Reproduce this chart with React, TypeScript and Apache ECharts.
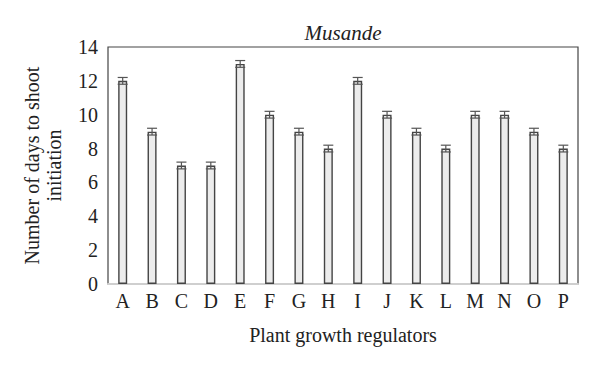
import React, { useEffect, useRef } from "react";
import * as echarts from "echarts";

const categories = ["A", "B", "C", "D", "E", "F", "G", "H", "I", "J", "K", "L", "M", "N", "O", "P"];
const values = [12, 9, 7, 7, 13, 10, 9, 8, 12, 10, 9, 8, 10, 10, 9, 8];
const errors = [0.2, 0.2, 0.2, 0.2, 0.2, 0.2, 0.2, 0.2, 0.2, 0.2, 0.2, 0.2, 0.2, 0.2, 0.2, 0.2];
const yTicks = [0, 2, 4, 6, 8, 10, 12, 14];

const FONT = "Liberation Serif";

export default function App() {
  const ref = useRef<HTMLDivElement>(null);
  useEffect(() => {
    if (!ref.current) return;
    const chart = echarts.init(ref.current, undefined, { renderer: "svg" });
    const errData = values.map((v, i) => [i, v - errors[i], v + errors[i]]);
    chart.setOption({
      animation: false,
      backgroundColor: "#ffffff",
      textStyle: { fontFamily: FONT },
      title: {
        text: "Musande",
        left: 343,
        top: 22,
        padding: 0,
        textAlign: "center",
        textStyle: { fontFamily: FONT, fontStyle: "italic", fontWeight: "normal", fontSize: 21, color: "#222" },
      },
      grid: {
        left: 108,
        right: 22,
        top: 47,
        bottom: 84,
        show: true,
        borderColor: "#444",
        borderWidth: 1.2,
        backgroundColor: "transparent",
      },
      xAxis: {
        type: "category",
        data: categories,
        name: "Plant growth regulators",
        nameLocation: "middle",
        nameGap: 41,
        nameTextStyle: { fontFamily: FONT, fontSize: 20, color: "#222" },
        axisLine: { show: true, lineStyle: { color: "#cfcfcf", width: 2 } },
        axisTick: { show: false },
        axisLabel: { fontFamily: FONT, fontSize: 20, color: "#222", margin: 7 },
      },
      yAxis: {
        type: "value",
        min: 0,
        max: 14,
        interval: 2,
        name: "Number of days to shoot\ninitiation",
        nameLocation: "middle",
        nameGap: 43,
        nameTextStyle: { fontFamily: FONT, fontSize: 20, color: "#222", lineHeight: 22 },
        axisLine: { show: false },
        axisTick: { show: false },
        splitLine: { show: false },
        axisLabel: {
          fontFamily: FONT,
          fontSize: 20,
          color: "#222",
          margin: 10,
          formatter: (v: number) => (yTicks.includes(v) ? String(v) : ""),
        },
      },
      series: [
        {
          type: "bar",
          data: values,
          barWidth: 9,
          itemStyle: { color: "#ececec", borderColor: "#444", borderWidth: 1.4 },
          z: 2,
        },
        {
          type: "custom",
          data: errData,
          z: 3,
          renderItem: (params: any, api: any) => {
            const x = api.value(0);
            const lo = api.coord([x, api.value(1)]);
            const hi = api.coord([x, api.value(2)]);
            const w = 5;
            const style = { stroke: "#555", lineWidth: 1.2 };
            return {
              type: "group",
              children: [
                { type: "line", shape: { x1: hi[0], y1: hi[1], x2: lo[0], y2: lo[1] }, style },
                { type: "line", shape: { x1: hi[0] - w, y1: hi[1], x2: hi[0] + w, y2: hi[1] }, style },
                { type: "line", shape: { x1: lo[0] - w, y1: lo[1], x2: lo[0] + w, y2: lo[1] }, style },
              ],
            };
          },
        },
      ],
    });
    return () => chart.dispose();
  }, []);
  return <div ref={ref} style={{ width: 600, height: 368, margin: -8 }} />;
}
